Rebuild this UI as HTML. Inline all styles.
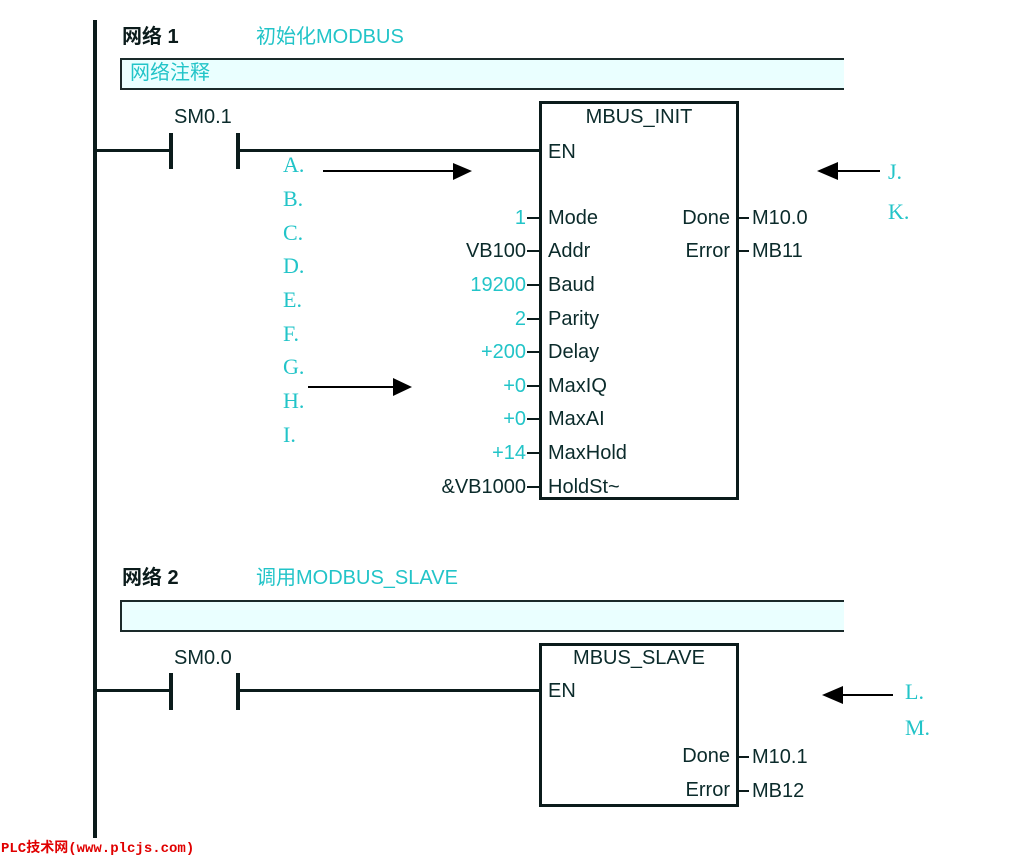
<!DOCTYPE html>
<html><head><meta charset="utf-8"><style>
body{margin:0;width:1016px;height:858px;background:#fff;position:relative;overflow:hidden;font-family:"Liberation Sans","Noto Sans CJK SC",sans-serif}
.a{position:absolute;white-space:nowrap;line-height:1}
.k{color:#0b2b2b;font-size:20px}
.c{color:#22c4c8;font-size:20px}
.l{color:#22c4c8;font-family:"Liberation Serif",serif;font-size:22px}
.r{text-align:right}
.h{position:absolute;background:#0b1b1b}
</style></head><body>
<div class="h" style="left:93px;top:20px;width:4px;height:818px"></div>

<div class="a" style="left:122px;top:27px;font-size:20px;font-weight:bold;color:#0b1b1b">网络 1</div>
<div class="a c" style="left:256px;top:27px">初始化MODBUS</div>
<div class="a" style="left:120px;top:58px;width:722px;height:28px;border:2px solid #1a2a2a;border-right:none;background:#eaffff"></div>
<div class="a c" style="left:130px;top:63px">网络注释</div>

<div class="a k" style="left:174px;top:107px">SM0.1</div>
<div class="h" style="left:95px;top:149px;width:75px;height:3px"></div>
<div class="h" style="left:169px;top:133px;width:4px;height:36px"></div>
<div class="h" style="left:236px;top:133px;width:4px;height:36px"></div>
<div class="h" style="left:238px;top:149px;width:302px;height:3px"></div>

<div class="a" style="left:539px;top:101px;width:194px;height:393px;border:3px solid #0b1b1b"></div>
<div class="a k" style="left:542px;top:107px;width:194px;text-align:center">MBUS_INIT</div>
<div class="a k" style="left:548px;top:142px">EN</div>

<div class="a k" style="left:548px;top:208px">Mode</div>
<div class="a k" style="left:548px;top:241px">Addr</div>
<div class="a k" style="left:548px;top:275px">Baud</div>
<div class="a k" style="left:548px;top:309px">Parity</div>
<div class="a k" style="left:548px;top:342px">Delay</div>
<div class="a k" style="left:548px;top:376px">MaxIQ</div>
<div class="a k" style="left:548px;top:409px">MaxAI</div>
<div class="a k" style="left:548px;top:443px">MaxHold</div>
<div class="a k" style="left:548px;top:477px">HoldSt~</div>

<div class="a c r" style="left:326px;top:208px;width:200px">1</div>
<div class="a k r" style="left:326px;top:241px;width:200px">VB100</div>
<div class="a c r" style="left:326px;top:275px;width:200px">19200</div>
<div class="a c r" style="left:326px;top:309px;width:200px">2</div>
<div class="a c r" style="left:326px;top:342px;width:200px">+200</div>
<div class="a c r" style="left:326px;top:376px;width:200px">+0</div>
<div class="a c r" style="left:326px;top:409px;width:200px">+0</div>
<div class="a c r" style="left:326px;top:443px;width:200px">+14</div>
<div class="a k r" style="left:326px;top:477px;width:200px">&amp;VB1000</div>

<div class="h" style="left:527px;top:217px;width:13px;height:2px"></div>
<div class="h" style="left:527px;top:250px;width:13px;height:2px"></div>
<div class="h" style="left:527px;top:284px;width:13px;height:2px"></div>
<div class="h" style="left:527px;top:318px;width:13px;height:2px"></div>
<div class="h" style="left:527px;top:351px;width:13px;height:2px"></div>
<div class="h" style="left:527px;top:385px;width:13px;height:2px"></div>
<div class="h" style="left:527px;top:418px;width:13px;height:2px"></div>
<div class="h" style="left:527px;top:452px;width:13px;height:2px"></div>
<div class="h" style="left:527px;top:486px;width:13px;height:2px"></div>

<div class="a k r" style="left:530px;top:208px;width:200px">Done</div>
<div class="a k r" style="left:530px;top:241px;width:200px">Error</div>
<div class="h" style="left:737px;top:217px;width:12px;height:2px"></div>
<div class="h" style="left:737px;top:250px;width:12px;height:2px"></div>
<div class="a k" style="left:752px;top:208px">M10.0</div>
<div class="a k" style="left:752px;top:241px">MB11</div>

<div class="a l" style="left:283px;top:154px">A.</div>
<div class="a l" style="left:283px;top:188px">B.</div>
<div class="a l" style="left:283px;top:222px">C.</div>
<div class="a l" style="left:283px;top:255px">D.</div>
<div class="a l" style="left:283px;top:289px">E.</div>
<div class="a l" style="left:283px;top:323px">F.</div>
<div class="a l" style="left:283px;top:356px">G.</div>
<div class="a l" style="left:283px;top:390px">H.</div>
<div class="a l" style="left:283px;top:424px">I.</div>
<div class="a l" style="left:888px;top:161px">J.</div>
<div class="a l" style="left:888px;top:201px">K.</div>
<div class="a l" style="left:905px;top:681px">L.</div>
<div class="a l" style="left:905px;top:717px">M.</div>

<svg class="a" style="left:0;top:0" width="1016" height="858">
<g fill="#000" stroke="#000" stroke-width="2">
<line x1="323" y1="171" x2="455" y2="171"/><polygon points="453,163 472,171 453,180" stroke="none"/>
<line x1="308" y1="387" x2="395" y2="387"/><polygon points="393,378 412,387 393,396" stroke="none"/>
<line x1="836" y1="171" x2="880" y2="171"/><polygon points="838,162 817,171 838,180" stroke="none"/>
<line x1="841" y1="695" x2="893" y2="695"/><polygon points="843,686 822,695 843,704" stroke="none"/>
</g></svg>

<div class="a" style="left:122px;top:568px;font-size:20px;font-weight:bold;color:#0b1b1b">网络 2</div>
<div class="a c" style="left:256px;top:568px">调用MODBUS_SLAVE</div>
<div class="a" style="left:120px;top:600px;width:722px;height:28px;border:2px solid #1a2a2a;border-right:none;background:#eaffff"></div>

<div class="a k" style="left:174px;top:648px">SM0.0</div>
<div class="h" style="left:95px;top:689px;width:75px;height:3px"></div>
<div class="h" style="left:169px;top:673px;width:4px;height:37px"></div>
<div class="h" style="left:236px;top:673px;width:4px;height:37px"></div>
<div class="h" style="left:238px;top:689px;width:302px;height:3px"></div>

<div class="a" style="left:539px;top:643px;width:194px;height:158px;border:3px solid #0b1b1b"></div>
<div class="a k" style="left:542px;top:648px;width:194px;text-align:center">MBUS_SLAVE</div>
<div class="a k" style="left:548px;top:681px">EN</div>
<div class="a k r" style="left:530px;top:746px;width:200px">Done</div>
<div class="a k r" style="left:530px;top:780px;width:200px">Error</div>
<div class="h" style="left:737px;top:756px;width:12px;height:2px"></div>
<div class="h" style="left:737px;top:790px;width:12px;height:2px"></div>
<div class="a k" style="left:752px;top:747px">M10.1</div>
<div class="a k" style="left:752px;top:781px">MB12</div>

<div class="a" style="left:1px;top:842px;color:#e00000;font-weight:bold;font-size:14px;font-family:'Liberation Mono','Noto Sans CJK SC',monospace">PLC技术网(www.plcjs.com)</div>
</body></html>
